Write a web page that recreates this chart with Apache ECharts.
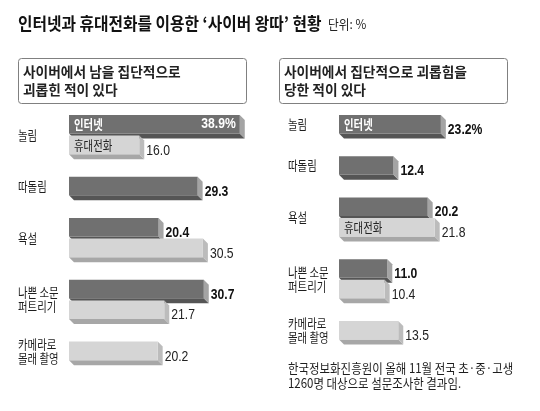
<!DOCTYPE html>
<html>
<head>
<meta charset="utf-8">
<script src="https://cdn.jsdelivr.net/npm/echarts/dist/echarts.min.js"></script>
<style>html,body{margin:0;padding:0;background:#fff;}#c{width:540px;height:411px;}</style>
</head>
<body>
<div id="c"></div>
<script>
// ---- data ----
const categoriesL = ['놀림', '따돌림', '욕설', '나쁜 소문\n퍼트리기', '카메라로\n몰래 촬영'];
const internetL = [38.9, 29.3, 20.4, 30.7, null];
const mobileL   = [16.0, null, 30.5, 21.7, 20.2];
const categoriesR = ['놀림', '따돌림', '욕설', '나쁜 소문\n퍼트리기', '카메라로\n몰래 촬영'];
const internetR = [23.2, 12.4, 20.2, 11.0, null];
const mobileR   = [null, null, 21.8, 10.4, 13.5];
const seriesNames = ['인터넷', '휴대전화'];
const panelTitles = [['사이버에서 남을 집단적으로', '괴롭힌 적이 있다'], ['사이버에서 집단적으로 괴롭힘을', '당한 적이 있다']];
const titleText = '인터넷과 휴대전화를 이용한 ‘사이버 왕따’ 현황';
const unitText = '단위: %';
const noteLines = ['한국정보화진흥원이 올해 11월 전국 초·중·고생', '1260명 대상으로 설문조사한 결과임.'];

// ---- build rows: each bar is one row, blank row between groups ----
function buildPanel(cats, inet, mob) {
  const data = []; let row = 0; let seenI = false, seenM = false;
  cats.forEach((name, c) => {
    const start = row; const items = [];
    if (inet[c] != null) { items.push([inet[c], row, 0, c, seenI ? 0 : 1]); seenI = true; row++; }
    if (mob[c] != null) { items.push([mob[c], row, 1, c, seenM ? 0 : 1]); seenM = true; row++; }
    const end = row - 1;
    items.forEach((it, k) => { it.push(k === 0 ? 1 : 0, start, end); data.push(it); });
    if (c < cats.length - 1) row++;
  });
  const keys = []; for (let i = 0; i < row; i++) keys.push('r' + i);
  return { data, keys };
}
const PL = buildPanel(categoriesL, internetL, mobileL);
const PR = buildPanel(categoriesR, internetR, mobileR);

const COL = [
  { front: '#707070', side: '#a4a4a4', bottom: '#555555' },
  { front: '#d5d5d5', side: '#bcbcbc', bottom: '#a7a7a7' }
];
const NUMFONT = 'Liberation Sans, Arial, sans-serif';
const KRFONT = 'Noto Sans CJK KR, sans-serif';

function makeRender(cats) {
  return function (params, api) {
    const v = api.value(0), r = api.value(1), kind = api.value(2), c = api.value(3);
    const firstOfKind = api.value(4), groupFirst = api.value(5), gs = api.value(6), ge = api.value(7);
    const p0 = api.coord([0, r]), p1 = api.coord([v, r]);
    const band = api.size([0, 1])[1];
    const h = band * 0.9;
    const top = p0[1] - band / 2 + 1, bot = top + h;
    const x0 = p0[0], x1 = p1[0];
    const dx = 5, dy = 5;
    const col = COL[kind];
    const children = [
      { type: 'polygon', shape: { points: [[x0, bot], [x1, bot], [x1 + dx, bot + dy], [x0 + dx, bot + dy]] }, style: { fill: col.bottom } },
      { type: 'polygon', shape: { points: [[x1, top], [x1 + dx, top + dy], [x1 + dx, bot + dy], [x1, bot]] }, style: { fill: col.side } },
      { type: 'rect', shape: { x: x0, y: top, width: x1 - x0, height: h }, style: { fill: col.front } }
    ];
    // value label
    let txt = v.toFixed(1) + (firstOfKind && kind === 0 ? '%' : '');
    const inside = v > 35;
    children.push({
      type: 'text', x: inside ? x1 - 4 : x1 + dx + 2, y: inside ? top + h / 2 : bot - 3.5, scaleX: 0.84,
      style: {
        text: txt, fill: inside ? '#fff' : (kind === 0 ? '#111' : '#222'),
        fontSize: 14.5, fontFamily: NUMFONT, fontWeight: kind === 0 ? 'bold' : 'normal',
        align: inside ? 'right' : 'left', verticalAlign: 'middle', textAlign: inside ? 'right' : 'left', textVerticalAlign: 'middle'
      }
    });
    // series name inside the first bar of each kind
    if (firstOfKind) {
      children.push({
        type: 'text', x: x0 + 5, y: top + h / 2, scaleX: 0.8,
        style: {
          text: seriesNames[kind], fill: kind === 0 ? '#fff' : '#222',
          fontSize: 13, fontFamily: KRFONT, fontWeight: kind === 0 ? 'bold' : 'normal',
          align: 'left', verticalAlign: 'middle', textAlign: 'left', textVerticalAlign: 'middle'
        }
      });
    }
    // category label
    if (groupFirst) {
      const ya = api.coord([0, gs])[1], yb = api.coord([0, ge])[1];
      const yc = (ya + yb) / 2 - band / 2 + 1 + h / 2;
      children.push({
        type: 'text', x: x0 - 51, y: yc, scaleX: 0.8,
        style: {
          text: cats[c], fill: '#1e1e1e', fontSize: 13, lineHeight: 14, fontFamily: KRFONT,
          align: 'left', verticalAlign: 'middle', textAlign: 'left', textVerticalAlign: 'middle'
        }
      });
    }
    return { type: 'group', children };
  };
}

const BAND = 20.6;
const chart = echarts.init(document.getElementById('c'), null, { renderer: 'canvas' });

function textEl(x, y, text, size, weight, fill, sx) {
  return {
    type: 'text', x: x, y: y, scaleX: sx,
    style: { text: text, fontSize: size, fontWeight: weight, fontFamily: KRFONT, fill: fill,
      align: 'left', verticalAlign: 'middle', textAlign: 'left', textVerticalAlign: 'middle' }
  };
}

chart.setOption({
  backgroundColor: '#fff',
  animation: false,
  grid: [
    { left: 69, top: 114, width: 175.6, height: BAND * PL.keys.length },
    { left: 339, top: 114, width: 175.6, height: BAND * PR.keys.length }
  ],
  xAxis: [
    { type: 'value', gridIndex: 0, min: 0, max: 40, show: false },
    { type: 'value', gridIndex: 1, min: 0, max: 40, show: false }
  ],
  yAxis: [
    { type: 'category', gridIndex: 0, inverse: true, data: PL.keys, show: false },
    { type: 'category', gridIndex: 1, inverse: true, data: PR.keys, show: false }
  ],
  series: [
    { type: 'custom', xAxisIndex: 0, yAxisIndex: 0, data: PL.data, renderItem: makeRender(categoriesL), clip: false, encode: { x: 0, y: 1 } },
    { type: 'custom', xAxisIndex: 1, yAxisIndex: 1, data: PR.data, renderItem: makeRender(categoriesR), clip: false, encode: { x: 0, y: 1 } }
  ],
  graphic: [
    textEl(18, 23, titleText, 17.5, 'bold', '#111', 0.9),
    textEl(328, 24, unitText, 13, 'normal', '#222', 0.9),
    { type: 'rect', shape: { x: 18.5, y: 58.5, width: 228, height: 45, r: 3 }, style: { fill: '#fff', stroke: '#808080', lineWidth: 1 } },
    { type: 'rect', shape: { x: 279.5, y: 58.5, width: 228, height: 45, r: 3 }, style: { fill: '#fff', stroke: '#808080', lineWidth: 1 } },
    textEl(23, 72, panelTitles[0][0], 14, 'bold', '#222', 0.98),
    textEl(23, 90, panelTitles[0][1], 14, 'bold', '#222', 0.98),
    textEl(284, 72, panelTitles[1][0], 14, 'bold', '#222', 0.98),
    textEl(284, 90, panelTitles[1][1], 14, 'bold', '#222', 0.98),
    textEl(288, 368, noteLines[0], 13, 'normal', '#1e1e1e', 0.88),
    textEl(288, 383, noteLines[1], 13, 'normal', '#1e1e1e', 0.88)
  ]
});
</script>
</body>
</html>
